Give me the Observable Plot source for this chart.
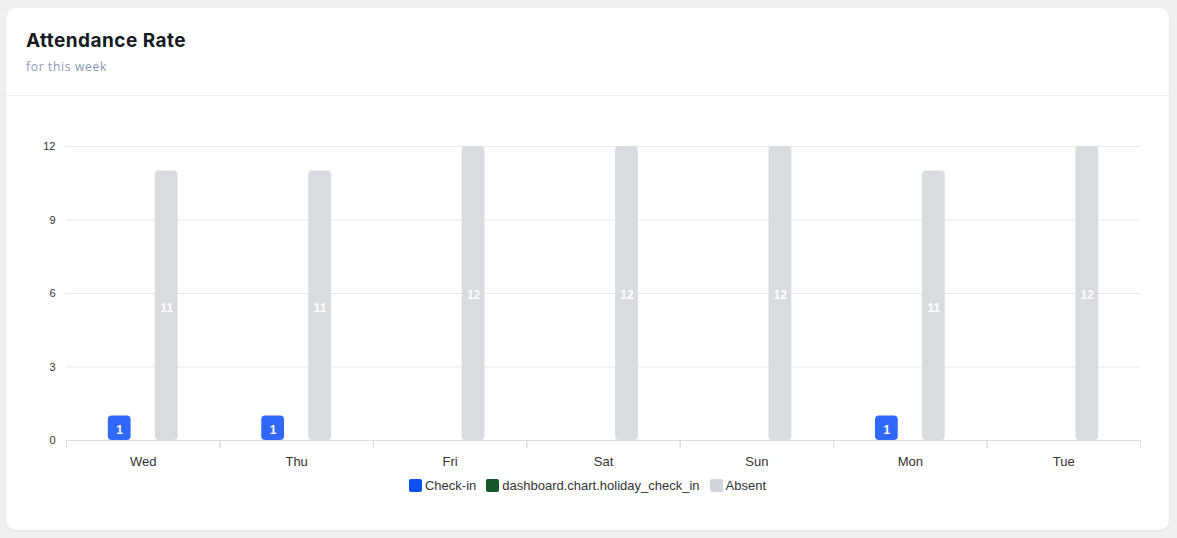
<!DOCTYPE html>
<html>
<head>
<meta charset="utf-8">
<script src="https://cdn.jsdelivr.net/npm/d3@7"></script>
<script src="https://cdn.jsdelivr.net/npm/@observablehq/plot@0.6"></script>
<style>
  html, body { margin: 0; padding: 0; }
  body { width: 1177px; height: 538px; background: #f0f0f2; position: relative; overflow: hidden; font-family: "Liberation Sans", Arial, sans-serif; }
  .card { position: absolute; left: 6px; top: 8px; width: 1163px; height: 522px; background: #fff; border-radius: 10px; box-shadow: 0 1px 3px rgba(0,0,0,0.06); }
  .title { position: absolute; left: 20px; top: 21px; font-family: "Inter", "Open Sans", sans-serif; font-weight: 700; font-size: 19px; color: #161b1f; letter-spacing: 0.45px; }
  .subtitle { position: absolute; left: 20px; top: 50px; font-family: "Open Sans", "Inter", sans-serif; font-size: 12px; color: #8b96b1; letter-spacing: 0.7px; }
  .divider { position: absolute; left: 0; right: 0; top: 87px; height: 1px; background: #eef1f8; }
  #chart { position: absolute; left: 0; top: 112px; }
  .legend { position: absolute; left: 0; width: 1163px; top: 470px; display: flex; justify-content: center; gap: 10px; font-size: 13px; color: #333; }
  .legend .item { display: flex; align-items: center; gap: 3px; }
  .legend .sw { width: 13px; height: 13px; border-radius: 2px; display: inline-block; }
</style>
</head>
<body>
<div class="card">
  <div class="title">Attendance Rate</div>
  <div class="subtitle">for this week</div>
  <div class="divider"></div>
  <div id="chart"></div>
  <div class="legend" id="legend"></div>
</div>
<script>
const days = ["Wed", "Thu", "Fri", "Sat", "Sun", "Mon", "Tue"];
const seriesNames = ["Check-in", "dashboard.chart.holiday_check_in", "Absent"];
const checkIn = [1, 1, 0, 0, 0, 1, 0];
const holidayCheckIn = [0, 0, 0, 0, 0, 0, 0];
const absent = [11, 11, 12, 12, 12, 11, 12];
const yTicks = [0, 3, 6, 9, 12];
const barColors = ["#3069fa", "#1a5c2e", "#d8dbe0"];
const legendColors = ["#0b4ff2", "#17552b", "#d1d5db"];

const seriesValues = [checkIn, holidayCheckIn, absent];
const rows = [];
days.forEach((day, i) => {
  seriesNames.forEach((s, j) => {
    rows.push({day, series: s, value: seriesValues[j][i]});
  });
});

const chart = Plot.plot({
  width: 1163,
  height: 360,
  marginLeft: 60,
  marginRight: 29,
  marginTop: 26,
  marginBottom: 40,
  style: {fontFamily: "Liberation Sans, Arial, sans-serif", fontSize: "13px", color: "#333", background: "transparent"},
  fx: {domain: days, padding: 0, label: null, tickSize: 0, tickPadding: 16, round: false},
  x: {domain: seriesNames, axis: null, paddingInner: 0.03, paddingOuter: 1.78, round: false},
  y: {domain: [0, 12], ticks: yTicks, tickSize: 0, tickPadding: 11, label: null, tickFormat: d => String(d)},
  color: {domain: seriesNames, range: barColors},
  marks: [
    Plot.ruleY(yTicks, {stroke: "#e8e8e8"}),
    Plot.barY(rows, {fx: "day", x: "series", y: "value", fill: "series", rx: 4}),
    Plot.text(rows.filter(d => d.value > 0), {fx: "day", x: "series", y: d => d.value / 2, text: d => String(d.value), fill: "white", fontWeight: "bold", fontSize: 12, dy: 2}),
    Plot.ruleY([0], {stroke: "#dcdcdc"}),
    Plot.frame({anchor: "left", stroke: "#dcdcdc", insetTop: 294, insetBottom: -7}),
    Plot.frame({anchor: "right", stroke: "#dcdcdc", insetTop: 294, insetBottom: -7})
  ]
});
chart.querySelectorAll("g[aria-label='y-axis tick label'] text, g[aria-label='y-axis'] text").forEach(t => t.setAttribute("font-size", "11"));
document.getElementById("chart").appendChild(chart);

const legend = document.getElementById("legend");
seriesNames.forEach((s, i) => {
  const item = document.createElement("div");
  item.className = "item";
  const sw = document.createElement("span");
  sw.className = "sw";
  sw.style.background = legendColors[i];
  const label = document.createElement("span");
  label.textContent = s;
  item.appendChild(sw);
  item.appendChild(label);
  legend.appendChild(item);
});
</script>
</body>
</html>
